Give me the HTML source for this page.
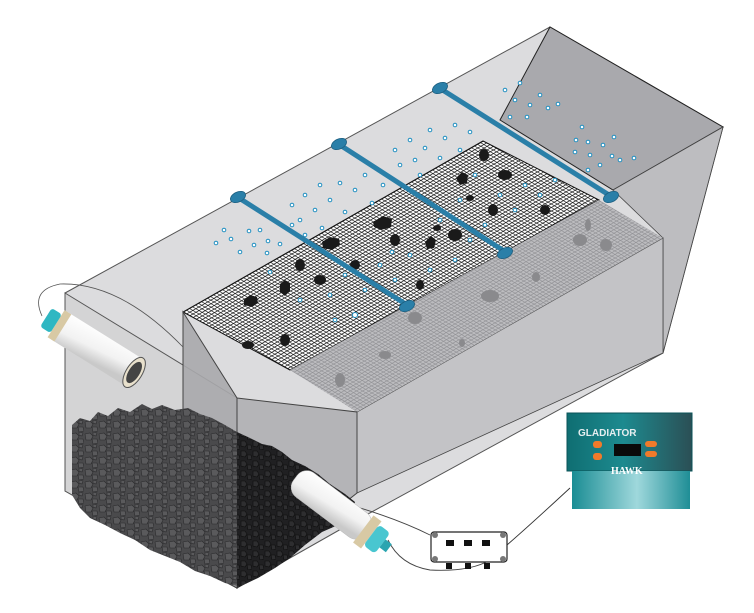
<!DOCTYPE html>
<html><head><meta charset="utf-8"><style>html,body{margin:0;padding:0;background:#fff}svg{display:block}</style></head>
<body>
<svg width="754" height="613" viewBox="0 0 754 613" xmlns="http://www.w3.org/2000/svg">
<defs>
<pattern id="gd" width="1" height="1" patternUnits="userSpaceOnUse" patternTransform="matrix(3,-1.71,3.16,1.82,183,312)">
<rect width="1" height="1" fill="#fff"/><path d="M0 0H1M0 0V1" stroke="#111" stroke-width="0.42" fill="none"/></pattern>
<pattern id="gl" width="1" height="1" patternUnits="userSpaceOnUse" patternTransform="matrix(3,-1.71,3.16,1.82,183,312)">
<rect width="1" height="1" fill="#bcbcbf"/><path d="M0 0H1M0 0V1" stroke="#8e8e92" stroke-width="0.4" fill="none"/></pattern>
<pattern id="gv" width="14" height="12" patternUnits="userSpaceOnUse">
<rect width="14" height="12" fill="#4a4a4c"/><path d="M1 2l5-1 3 3-2 4-5 0zM8 7l5 0 1 4-5 1zM9 0l4 1-1 3-3-1z" fill="#5a5a5c" stroke="#2a2a2c" stroke-width="0.6"/></pattern>
<pattern id="gv2" width="12" height="10" patternUnits="userSpaceOnUse">
<rect width="12" height="10" fill="#202022"/><path d="M1 1l4 0 2 3-2 3-4-1zM7 5l4 0 1 4-4 1z" fill="#2e2e30" stroke="#0c0c0c" stroke-width="0.6"/></pattern>
<linearGradient id="cyl" x1="0" y1="0" x2="0.3" y2="1"><stop offset="0" stop-color="#fff"/><stop offset="0.6" stop-color="#f2f2f2"/><stop offset="1" stop-color="#c9c9c9"/></linearGradient>
<linearGradient id="ctop" x1="0" y1="0" x2="1" y2="0"><stop offset="0" stop-color="#0f6e72"/><stop offset="0.45" stop-color="#1d8a8f"/><stop offset="1" stop-color="#2b4f55"/></linearGradient>
<linearGradient id="cbot" x1="0" y1="0" x2="1" y2="0"><stop offset="0" stop-color="#1a8d94"/><stop offset="0.55" stop-color="#9fd8dc"/><stop offset="1" stop-color="#1f8e96"/></linearGradient>
</defs>

<polygon points="65,293 550,27 723,127 663,353 357,520 237,588 65,491" fill="#dcdcde" stroke="#555" stroke-width="1"/>
<polygon points="550,27 723,127 613,190 500,120" fill="#a9a9ad" stroke="#222" stroke-width="1"/>
<polygon points="723,127 663,353 663,238 613,190" fill="#bdbdc0" stroke="#444" stroke-width="0.8"/>
<polygon points="357,412 663,238 663,353 357,493" fill="#c3c3c6" stroke="#444" stroke-width="0.8"/>
<polygon points="183,312 483,141 599,200 290,370" fill="url(#gd)" stroke="#111" stroke-width="1"/>
<polygon points="290,370 599,200 663,238 357,412" fill="url(#gl)"/>
<polygon points="65,293 237,398 237,588 65,491" fill="#d2d2d4" fill-opacity="0.85" stroke="#555" stroke-width="1"/>
<polygon points="183,312 237,398 237,588 183,560" fill="#a8a8ac" fill-opacity="0.9" stroke="#444" stroke-width="1"/>
<polygon points="237,398 357,412 357,493 237,588" fill="#b4b4b7" stroke="#444" stroke-width="1"/>

<!-- gravel -->
<path d="M72,425 L80,418 90,421 98,412 108,416 118,408 130,412 142,404 152,409 162,405 175,410 188,408 200,414 212,418 225,425 237,432 L237,586 L225,583 210,576 195,571 180,562 165,556 150,550 135,540 120,533 105,525 90,518 80,508 72,495 Z" fill="url(#gv)"/>
<path d="M237,432 L250,438 262,444 272,446 282,452 292,460 305,466 318,474 330,484 345,494 355,502 L350,515 338,525 322,532 305,545 290,558 275,568 258,578 L237,588 Z" fill="url(#gv2)"/>

<g fill="#1a1a1a">
<path d="M244,300l6,-5 7,2 1,6 -6,4 -8,-2z"/><path d="M280,284l5,-4 5,3 0,8 -5,5 -5,-4z"/><ellipse cx="300" cy="265" rx="5" ry="6"/><path d="M322,242l8,-5 9,2 1,6 -8,5 -9,-2z"/><path d="M373,222l10,-6 9,3 -1,8 -10,3 -7,-3z"/><ellipse cx="395" cy="240" rx="5" ry="6"/><ellipse cx="320" cy="280" rx="6" ry="5"/><ellipse cx="355" cy="265" rx="5" ry="5"/><path d="M425,242l6,-6 5,4 -2,8 -7,1z"/><ellipse cx="455" cy="235" rx="7" ry="6"/><path d="M456,178l6,-6 6,3 -1,8 -7,2z"/><ellipse cx="484" cy="155" rx="5" ry="6"/><ellipse cx="505" cy="175" rx="7" ry="5"/><ellipse cx="493" cy="210" rx="5" ry="6"/><ellipse cx="545" cy="210" rx="5" ry="5"/><ellipse cx="285" cy="340" rx="5" ry="6"/><ellipse cx="248" cy="345" rx="6" ry="4"/><ellipse cx="420" cy="285" rx="4" ry="5"/><ellipse cx="437" cy="228" rx="4" ry="3"/><ellipse cx="470" cy="198" rx="4" ry="3"/>
</g>
<g fill="#8a8a8d">
<ellipse cx="580" cy="240" rx="7" ry="6"/><ellipse cx="606" cy="245" rx="6" ry="6"/><ellipse cx="588" cy="225" rx="3" ry="6"/><ellipse cx="536" cy="277" rx="4" ry="5"/><ellipse cx="490" cy="296" rx="9" ry="6"/><ellipse cx="415" cy="318" rx="7" ry="6"/><ellipse cx="462" cy="343" rx="3" ry="4"/><ellipse cx="385" cy="355" rx="6" ry="4"/><ellipse cx="340" cy="380" rx="5" ry="7"/>
</g>

<g fill="#fff" stroke="#1e8ec0" stroke-width="1">
<circle cx="216" cy="243" r="1.8"/><circle cx="231" cy="239" r="1.8"/><circle cx="240" cy="252" r="1.8"/><circle cx="249" cy="231" r="1.8"/><circle cx="254" cy="245" r="1.8"/><circle cx="260" cy="230" r="1.8"/><circle cx="268" cy="241" r="1.8"/><circle cx="267" cy="253" r="1.8"/><circle cx="280" cy="244" r="1.8"/><circle cx="224" cy="230" r="1.8"/>
<circle cx="292" cy="205" r="1.8"/><circle cx="300" cy="220" r="1.8"/><circle cx="305" cy="195" r="1.8"/><circle cx="315" cy="210" r="1.8"/><circle cx="320" cy="185" r="1.8"/><circle cx="330" cy="200" r="1.8"/><circle cx="340" cy="183" r="1.8"/><circle cx="345" cy="212" r="1.8"/><circle cx="355" cy="190" r="1.8"/><circle cx="365" cy="175" r="1.8"/><circle cx="372" cy="203" r="1.8"/><circle cx="383" cy="185" r="1.8"/><circle cx="305" cy="235" r="1.8"/><circle cx="322" cy="228" r="1.8"/><circle cx="292" cy="225" r="1.8"/>
<circle cx="395" cy="150" r="1.8"/><circle cx="400" cy="165" r="1.8"/><circle cx="410" cy="140" r="1.8"/><circle cx="415" cy="160" r="1.8"/><circle cx="425" cy="148" r="1.8"/><circle cx="430" cy="130" r="1.8"/><circle cx="440" cy="158" r="1.8"/><circle cx="445" cy="138" r="1.8"/><circle cx="455" cy="125" r="1.8"/><circle cx="460" cy="150" r="1.8"/><circle cx="470" cy="132" r="1.8"/><circle cx="420" cy="175" r="1.8"/>
<circle cx="505" cy="90" r="1.8"/><circle cx="515" cy="100" r="1.8"/><circle cx="520" cy="83" r="1.8"/><circle cx="530" cy="105" r="1.8"/><circle cx="540" cy="95" r="1.8"/><circle cx="548" cy="108" r="1.8"/><circle cx="558" cy="104" r="1.8"/><circle cx="510" cy="117" r="1.8"/><circle cx="527" cy="117" r="1.8"/>
<circle cx="582" cy="127" r="1.8"/><circle cx="576" cy="140" r="1.8"/><circle cx="588" cy="142" r="1.8"/><circle cx="575" cy="152" r="1.8"/><circle cx="590" cy="155" r="1.8"/><circle cx="603" cy="145" r="1.8"/><circle cx="612" cy="156" r="1.8"/><circle cx="620" cy="160" r="1.8"/><circle cx="634" cy="158" r="1.8"/><circle cx="600" cy="165" r="1.8"/><circle cx="588" cy="170" r="1.8"/><circle cx="614" cy="137" r="1.8"/>
<circle cx="270" cy="272" r="1.8"/><circle cx="300" cy="300" r="1.8"/><circle cx="330" cy="295" r="1.8"/><circle cx="345" cy="275" r="1.8"/><circle cx="365" cy="290" r="1.8"/><circle cx="380" cy="265" r="1.8"/><circle cx="395" cy="280" r="1.8"/><circle cx="355" cy="315" r="2.5"/><circle cx="392" cy="252" r="1.8"/><circle cx="410" cy="255" r="1.8"/><circle cx="440" cy="220" r="1.8"/><circle cx="455" cy="260" r="1.8"/><circle cx="470" cy="240" r="1.8"/><circle cx="485" cy="225" r="1.8"/><circle cx="500" cy="195" r="1.8"/><circle cx="515" cy="210" r="1.8"/><circle cx="525" cy="185" r="1.8"/><circle cx="540" cy="195" r="1.8"/><circle cx="555" cy="180" r="1.8"/><circle cx="475" cy="175" r="1.8"/><circle cx="460" cy="200" r="1.8"/><circle cx="430" cy="270" r="1.8"/><circle cx="335" cy="320" r="1.8"/>
</g>

<g stroke="#2a7fa8" stroke-width="5" stroke-linecap="round">
<line x1="239" y1="198" x2="407" y2="305"/><line x1="340" y1="145" x2="504" y2="251"/><line x1="441" y1="89" x2="609" y2="195"/>
</g>
<g fill="#2a7fa8" stroke="#1c5f80" stroke-width="0.8">
<ellipse cx="238" cy="197" rx="8" ry="5" transform="rotate(-25 238 197)"/><ellipse cx="407" cy="306" rx="8" ry="5" transform="rotate(-25 407 306)"/>
<ellipse cx="339" cy="144" rx="8" ry="5" transform="rotate(-25 339 144)"/><ellipse cx="505" cy="253" rx="8" ry="5" transform="rotate(-25 505 253)"/>
<ellipse cx="440" cy="88" rx="8" ry="5" transform="rotate(-25 440 88)"/><ellipse cx="611" cy="197" rx="8" ry="5" transform="rotate(-25 611 197)"/>
</g>

<path d="M42,316 Q30,290 60,284 Q120,282 183,347" fill="none" stroke="#555" stroke-width="0.8"/>
<g transform="rotate(32 60 325)">
<rect x="60" y="310" width="88" height="32" fill="url(#cyl)"/>
<rect x="56" y="310" width="8" height="32" fill="#d8c9a4"/>
<rect x="44" y="315" width="12" height="22" rx="3" fill="#2fb7c2"/>
<ellipse cx="148" cy="326" rx="8" ry="17" fill="#e8e0cc" stroke="#555"/>
<ellipse cx="148" cy="326" rx="5.5" ry="12" fill="#444"/>
</g>

<path d="M388,540 Q400,565 430,570 Q470,572 490,560" fill="none" stroke="#444" stroke-width="0.9"/>
<path d="M357,507 Q400,520 430,535" fill="none" stroke="#444" stroke-width="0.9"/>
<g transform="rotate(37 300 480)">
<rect x="295" y="466" width="90" height="30" rx="12" fill="url(#cyl)" stroke="#bbb" stroke-width="0.5"/>
<rect x="380" y="464" width="10" height="34" fill="#d8c9a4"/>
<rect x="390" y="468" width="14" height="26" rx="4" fill="#49c6d0"/>
<rect x="404" y="476" width="8" height="10" fill="#2aa5b0"/>
</g>

<rect x="431" y="532" width="76" height="30" rx="3" fill="#fff" stroke="#222" stroke-width="1.2"/>
<g fill="#777"><circle cx="435" cy="535" r="3"/><circle cx="503" cy="535" r="3"/><circle cx="435" cy="559" r="3"/><circle cx="503" cy="559" r="3"/></g>
<g fill="#111"><rect x="446" y="540" width="8" height="6"/><rect x="464" y="540" width="8" height="6"/><rect x="482" y="540" width="8" height="6"/>
<rect x="446" y="563" width="6" height="6"/><rect x="465" y="563" width="6" height="6"/><rect x="484" y="563" width="6" height="6"/></g>
<path d="M507,545 Q530,525 570,488" fill="none" stroke="#333" stroke-width="0.9"/>

<rect x="567" y="413" width="125" height="58" fill="url(#ctop)" stroke="#0b5358"/>
<rect x="572" y="471" width="118" height="38" fill="url(#cbot)"/>
<text x="578" y="436" font-family="Liberation Sans, sans-serif" font-size="10" font-weight="bold" fill="#e6eef0">GLADIATOR</text>
<rect x="593" y="441" width="9" height="7" rx="3" fill="#f07a2a"/><rect x="593" y="453" width="9" height="7" rx="3" fill="#f07a2a"/>
<rect x="614" y="444" width="27" height="12" fill="#0a0a0a"/>
<rect x="645" y="441" width="12" height="6" rx="3" fill="#f07a2a"/><rect x="645" y="451" width="12" height="6" rx="3" fill="#f07a2a"/>
<text x="611" y="474" font-family="Liberation Serif, serif" font-size="10" font-weight="bold" fill="#fff">HAWK</text>
</svg>
</body></html>
